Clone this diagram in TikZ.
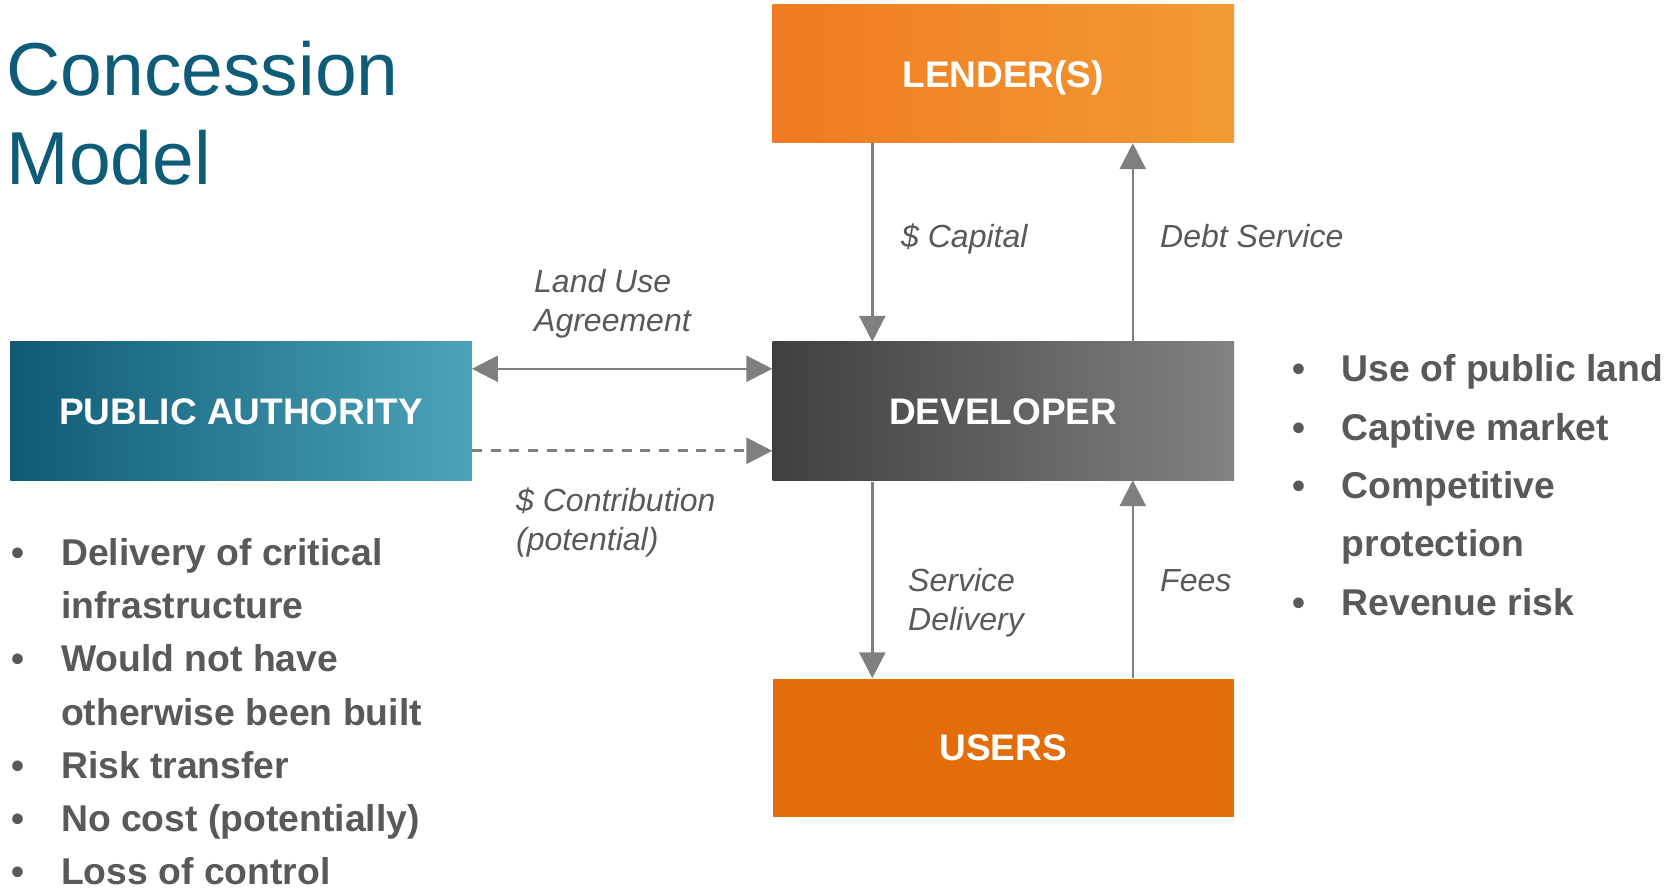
\documentclass[tikz,border=0pt]{standalone}
\usepackage{fontspec}
\setmainfont{Liberation Sans}
\usetikzlibrary{arrows.meta}
\definecolor{titleteal}{HTML}{0E5C78}
\definecolor{txtgray}{HTML}{595959}
\definecolor{arrgray}{HTML}{7F7F7F}
\definecolor{lendL}{HTML}{F07A22}
\definecolor{lendR}{HTML}{F39B33}
\definecolor{devL}{HTML}{3F3F3F}
\definecolor{devR}{HTML}{828282}
\definecolor{paL}{HTML}{0F5A75}
\definecolor{paR}{HTML}{4BA4B9}
\definecolor{usersC}{HTML}{E36C0B}
\newcommand{\mytwolines}[3]{\vtop{\baselineskip=#1\lineskiplimit=-100pt\lineskip=0pt\hbox{#2}\hbox{#3}}}
\begin{document}
\begin{tikzpicture}[x=1pt,y=-1pt,
  box/.style={rectangle, inner sep=0pt, minimum width=461.5pt, minimum height=138pt,
    text=white, font=\fontsize{37}{37}\selectfont\bfseries, text height=26.5pt, text depth=0pt},
  arr/.style={draw=arrgray, line width=2.5pt, -{Triangle[length=26pt,width=26pt]}},
  lbl/.style={inner sep=0pt, anchor=base west, text=txtgray, font=\fontsize{32}{38.7}\selectfont\itshape},
  bul/.style={inner sep=0pt, anchor=base west, text=txtgray, font=\fontsize{37.3}{37}\selectfont\bfseries},
  dotb/.style={inner sep=0pt, anchor=base, text=txtgray, font=\fontsize{37}{37}\selectfont\bfseries},
]
\path[fill=white] (0,0) rectangle (1673,890);

% title
\node[inner sep=0pt, anchor=base west, text=titleteal, font=\fontsize{75}{89}\selectfont] (title) at (6.5,95.5) {\mytwolines{89pt}{Concession}{Model}};

% boxes
\node[box, left color=lendL, right color=lendR] (L) at (1003.25,74) {LENDER(S)};
\node[box, left color=devL, right color=devR] (D) at (1003.25,411) {DEVELOPER};
\node[box, left color=paL, right color=paR] (P) at (241,411) {PUBLIC AUTHORITY};
\node[box, fill=usersC] (U) at (1003.25,747.5) {USERS};

% connectors
\draw[arr] ([xshift=100pt]L.south west) -- ([xshift=100pt]D.north west);
\draw[arr] ([xshift=360.5pt]D.north west) -- ([xshift=360.5pt]L.south west);
\draw[arr] ([xshift=100pt,yshift=-2pt]D.south west) -- ([xshift=100pt]U.north west);
\draw[arr] ([xshift=360.5pt]U.north west) -- ([xshift=360.5pt]D.south west);
\draw[arr, {Triangle[length=26pt,width=26pt]}-{Triangle[length=26pt,width=26pt]}] ([yshift=-27pt]P.north east) -- ([yshift=-27pt]D.north west);
\draw[arr, line width=3pt, dash pattern=on 10pt off 8.7pt] ([yshift=-109pt]P.north east) -- ([yshift=-109pt]D.north west);

% connector labels
\node[lbl] (capital) at (901,248) {\$ Capital};
\node[lbl] (debt) at (1160,248) {Debt Service};
\node[lbl] (landuse) at (534,293) {\mytwolines{38.7pt}{Land Use}{Agreement}};
\node[lbl] (contrib) at (516,511.7) {\mytwolines{38.7pt}{\$ Contribution}{(potential)}};
\node[lbl] (service) at (908,591.7) {\mytwolines{38.5pt}{Service}{Delivery}};
\node[lbl] (fees) at (1160,591.7) {Fees};

% left bullets
\node[dotb] (lb1) at (18.3,565) {•};
\node[bul] (lt1) at (61,565) {\mytwolines{53.4pt}{Delivery of critical}{infrastructure}};
\node[dotb] (lb2) at (18.3,671.8) {•};
\node[bul] (lt2) at (61,671.8) {\mytwolines{53.4pt}{Would not have}{otherwise been built}};
\node[dotb] (lb3) at (18.3,778.5) {•};
\node[bul] (lt3) at (61,778.5) {Risk transfer};
\node[dotb] (lb4) at (18.3,831.7) {•};
\node[bul] (lt4) at (61,831.7) {No cost (potentially)};
\node[dotb] (lb5) at (18.3,884.5) {•};
\node[bul] (lt5) at (61,884.5) {Loss of control};

% right bullets
\node[dotb] (rb1) at (1298.5,381.5) {•};
\node[bul] (rt1) at (1341.5,381.5) {Use of public land};
\node[dotb] (rb2) at (1298.5,440) {•};
\node[bul] (rt2) at (1341.5,440) {Captive market};
\node[dotb] (rb3) at (1298.5,498.3) {•};
\node[bul] (rt3) at (1341.5,498.3) {\mytwolines{58.3pt}{Competitive}{protection}};
\node[dotb] (rb4) at (1298.5,615) {•};
\node[bul] (rt4) at (1341.5,615) {Revenue risk};
\end{tikzpicture}
\end{document}
